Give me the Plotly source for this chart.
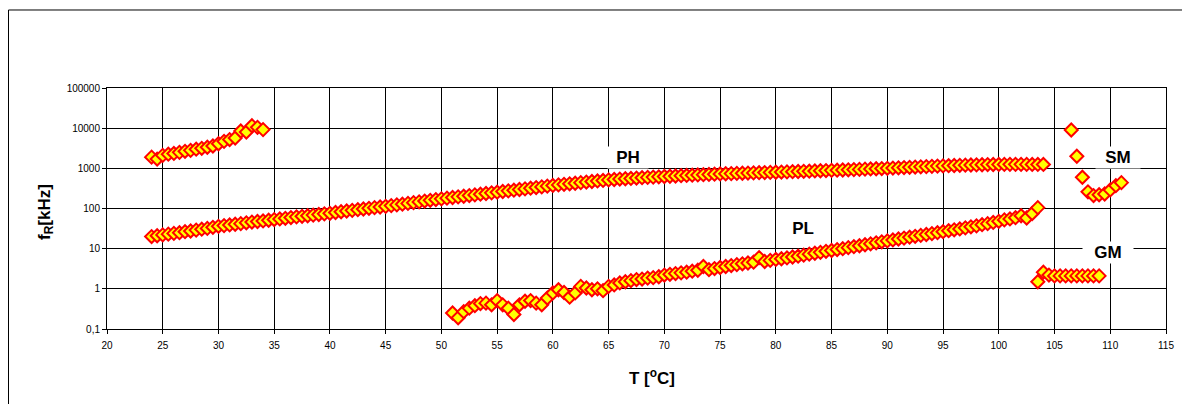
import plotly.graph_objects as go

# ---------------- data ----------------
ph_T = [24.0, 24.5, 25.0, 25.5, 26.0, 26.5, 27.0, 27.5, 28.0, 28.5, 29.0, 29.5,
        30.0, 30.5, 31.0, 31.5, 32.0, 32.5, 33.0, 33.5, 34.0, 34.5, 35.0, 35.5,
        36.0, 36.5, 37.0, 37.5, 38.0, 38.5, 39.0, 39.5, 40.0, 40.5, 41.0, 41.5,
        42.0, 42.5, 43.0, 43.5, 44.0, 44.5, 45.0, 45.5, 46.0, 46.5, 47.0, 47.5,
        48.0, 48.5, 49.0, 49.5, 50.0, 50.5, 51.0, 51.5, 52.0, 52.5, 53.0, 53.5,
        54.0, 54.5, 55.0, 55.5, 56.0, 56.5, 57.0, 57.5, 58.0, 58.5, 59.0, 59.5,
        60.0, 60.5, 61.0, 61.5, 62.0, 62.5, 63.0, 63.5, 64.0, 64.5, 65.0, 65.5,
        66.0, 66.5, 67.0, 67.5, 68.0, 68.5, 69.0, 69.5, 70.0, 70.5, 71.0, 71.5,
        72.0, 72.5, 73.0, 73.5, 74.0, 74.5, 75.0, 75.5, 76.0, 76.5, 77.0, 77.5,
        78.0, 78.5, 79.0, 79.5, 80.0, 80.5, 81.0, 81.5, 82.0, 82.5, 83.0, 83.5,
        84.0, 84.5, 85.0, 85.5, 86.0, 86.5, 87.0, 87.5, 88.0, 88.5, 89.0, 89.5,
        90.0, 90.5, 91.0, 91.5, 92.0, 92.5, 93.0, 93.5, 94.0, 94.5, 95.0, 95.5,
        96.0, 96.5, 97.0, 97.5, 98.0, 98.5, 99.0, 99.5, 100.0, 100.5, 101.0, 101.5,
        102.0, 102.5, 103.0, 103.5, 104.0]
ph_f = [20, 21, 22, 23, 24, 25, 26.5, 27.5, 29, 30.5, 32, 34,
        36, 37.5, 39, 40.5, 42, 44, 46, 47.5, 49, 51, 53, 55,
        57, 59.5, 62, 64, 66, 68.5, 71, 73.5, 76, 79.5, 83, 86.5,
        90, 93.5, 97, 101, 105, 109, 113, 118, 123, 128, 134, 140,
        146, 153, 160, 167, 174, 181, 188, 195, 202, 210, 218, 227,
        236, 245, 255, 265, 275, 286, 297, 308, 320, 332, 345, 360,
        375, 387, 400, 412, 425, 440, 455, 470, 485, 500, 515, 528,
        540, 550, 560, 572, 585, 595, 605, 615, 625, 635, 645, 655,
        665, 675, 685, 695, 705, 715, 725, 732, 740, 748, 755, 762,
        770, 778, 785, 792, 800, 808, 815, 825, 835, 842, 850, 860,
        870, 880, 890, 900, 910, 920, 930, 942, 955, 965, 975, 988,
        1000, 1015, 1030, 1045, 1060, 1075, 1090, 1105, 1120, 1135, 1150, 1162,
        1175, 1188, 1200, 1210, 1220, 1230, 1240, 1245, 1250, 1252, 1255, 1255,
        1255, 1252, 1250, 1250, 1250]

hi_T = [24.0, 24.5, 25.0, 25.5, 26.0, 26.5, 27.0, 27.5, 28.0, 28.5, 29.0,
        29.5, 30.0, 30.5, 31.0, 31.5, 32.0, 32.5, 33.0, 33.5, 34.0]
hi_f = [1900, 1700, 2100, 2250, 2350, 2500, 2650, 2800, 3000, 3150, 3350,
        3600, 4100, 4700, 5200, 5700, 8500, 8000, 11500, 10500, 9200]

pl_T = [51.0, 51.5, 52.0, 52.5, 53.0, 53.5, 54.0, 54.5, 55.0, 55.5, 56.0, 56.5,
        57.0, 57.5, 58.0, 58.5, 59.0, 59.5, 60.0, 60.5, 61.0, 61.5, 62.0, 62.5,
        63.0, 63.5, 64.0, 64.5, 65.0, 65.5, 66.0, 66.5, 67.0, 67.5, 68.0, 68.5,
        69.0, 69.5, 70.0, 70.5, 71.0, 71.5, 72.0, 72.5, 73.0, 73.5, 74.0, 74.5,
        75.0, 75.5, 76.0, 76.5, 77.0, 77.5, 78.0, 78.5, 79.0, 79.5, 80.0, 80.5,
        81.0, 81.5, 82.0, 82.5, 83.0, 83.5, 84.0, 84.5, 85.0, 85.5, 86.0, 86.5,
        87.0, 87.5, 88.0, 88.5, 89.0, 89.5, 90.0, 90.5, 91.0, 91.5, 92.0, 92.5,
        93.0, 93.5, 94.0, 94.5, 95.0, 95.5, 96.0, 96.5, 97.0, 97.5, 98.0, 98.5,
        99.0, 99.5, 100.0, 100.5, 101.0, 101.5, 102.0, 102.5, 103.0, 103.5]
pl_f = [0.25, 0.19, 0.27, 0.33, 0.38, 0.43, 0.44, 0.40, 0.51, 0.40, 0.33, 0.23,
        0.40, 0.49, 0.51, 0.44, 0.40, 0.59, 0.79, 0.95, 0.81, 0.62, 0.79, 1.15,
        1.05, 0.95, 1.0, 0.9, 1.15, 1.25, 1.4, 1.5, 1.6, 1.7, 1.75, 1.85,
        1.9, 2.0, 2.2, 2.3, 2.4, 2.5, 2.6, 2.75, 2.9, 3.6, 3.0, 3.2,
        3.4, 3.6, 3.8, 4.0, 4.2, 4.4, 4.6, 6.0, 4.8, 5.1, 5.4, 5.6,
        5.9, 6.2, 6.5, 6.9, 7.3, 7.7, 8.1, 8.6, 9.0, 9.5, 10.0, 10.6,
        11.2, 11.8, 12.5, 13.2, 14.0, 14.8, 15.6, 16.5, 17.4, 18.3, 19.3, 20.3,
        21.4, 22.5, 23.7, 25.0, 26.5, 28, 29.5, 31, 33, 35, 37, 39.5,
        42, 45, 48, 52, 55, 59, 66, 58, 75, 105]

gm_T = [103.5, 104.0, 104.5, 105.0, 105.5, 106.0, 106.5, 107.0, 107.5, 108.0, 108.5, 109.0]
gm_f = [1.5, 2.6, 2.2, 2.1, 2.1, 2.1, 2.1, 2.1, 2.1, 2.1, 2.1, 2.1]

sm_T = [106.5, 107.0, 107.5, 108.0, 108.5, 109.0, 109.5, 110.0, 110.5, 111.0]
sm_f = [9000, 2000, 600, 260, 210, 220, 230, 290, 370, 440]

x_ticks = [20, 25, 30, 35, 40, 45, 50, 55, 60, 65, 70, 75, 80, 85, 90, 95, 100, 105, 110, 115]
y_tickvals = [0.1, 1, 10, 100, 1000, 10000, 100000]
y_ticktext = ["0,1", "1", "10", "100", "1000", "10000", "100000"]

labels = ["PH", "PL", "SM", "GM"]
label_T = [66.75, 82.4, 110.7, 109.8]
label_logf = [3.274, 1.495, 3.261, 0.898]
label_w = [40, 40, 44, 50]

# ---------------- figure ----------------
FONT = "Arial, 'Liberation Sans', sans-serif"
marker = dict(symbol="diamond", size=10, color="#FFFF00",
              line=dict(color="#FF0000", width=2))

fig = go.Figure()
for T, f in [(ph_T, ph_f), (pl_T, pl_f), (hi_T, hi_f), (gm_T, gm_f), (sm_T, sm_f)]:
    fig.add_trace(go.Scatter(x=T, y=f, mode="markers", marker=marker,
                             showlegend=False, hoverinfo="x+y"))

for txt, tx, ty, w in zip(labels, label_T, label_logf, label_w):
    fig.add_annotation(x=tx, y=ty, xref="x", yref="y", text="<b>%s</b>" % txt,
                       showarrow=False, bgcolor="white", width=w, height=21,
                       borderpad=0, xanchor="center", yanchor="middle",
                       font=dict(family=FONT, size=17, color="black"))

fig.add_annotation(x=-0.0583, y=0.487, xref="paper", yref="paper",
                   text="<b>f<sub>R</sub>[kHz]</b>", textangle=-90, showarrow=False,
                   xanchor="center", yanchor="middle",
                   font=dict(family=FONT, size=17, color="black"))
fig.add_annotation(x=0.515, y=-0.198, xref="paper", yref="paper",
                   text="<b>T [<sup>o</sup>C]</b>", showarrow=False,
                   xanchor="center", yanchor="middle",
                   font=dict(family=FONT, size=17, color="black"))

# outer chart frame: only top and left edges are inside the picture
fig.add_shape(type="line", xref="paper", yref="paper",
              x0=-0.0930, x1=1.2, y0=1.3237, y1=1.3237,
              line=dict(color="#000000", width=1))
fig.add_shape(type="line", xref="paper", yref="paper",
              x0=-0.0930, x1=-0.0930, y0=-0.6, y1=1.3237,
              line=dict(color="#000000", width=1))

fig.update_xaxes(range=[20, 115], tickvals=x_ticks, ticks="outside", ticklen=4,
                 tickcolor="black", showgrid=True, gridcolor="black", gridwidth=1,
                 showline=True, linecolor="black", linewidth=1, mirror=True,
                 zeroline=False, ticklabelstandoff=3,
                 tickfont=dict(family=FONT, size=10, color="black"))
fig.update_yaxes(type="log", range=[-1, 5], tickvals=y_tickvals, ticktext=y_ticktext,
                 ticks="outside", ticklen=4, tickcolor="black", showgrid=True,
                 gridcolor="black", gridwidth=1, showline=True, linecolor="black",
                 linewidth=1, mirror=True, zeroline=False,
                 tickfont=dict(family=FONT, size=10, color="black"))

fig.update_layout(width=1190, height=404, plot_bgcolor="white", paper_bgcolor="white",
                  margin=dict(l=99, r=32, t=80, b=83), showlegend=False,
                  font=dict(family=FONT))

fig.write_html("out.html")
